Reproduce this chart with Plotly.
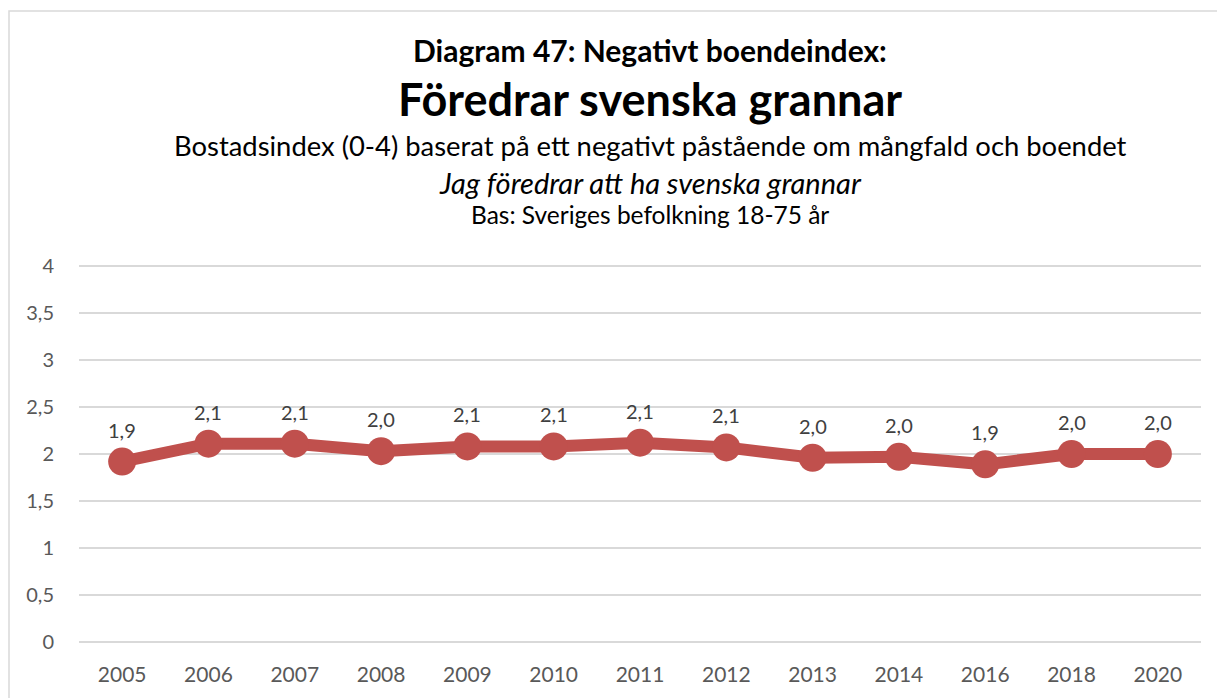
import plotly.graph_objects as go

# Survey years and index values (0-4 scale)
years = ["2005", "2006", "2007", "2008", "2009", "2010", "2011",
         "2012", "2013", "2014", "2016", "2018", "2020"]
index_values = [1.92, 2.11, 2.11, 2.03, 2.08, 2.08, 2.12,
                2.07, 1.96, 1.97, 1.89, 2.00, 2.00]
y_ticks = [0, 0.5, 1, 1.5, 2, 2.5, 3, 3.5, 4]
y_tick_labels = ["0", "0,5", "1", "1,5", "2", "2,5", "3", "3,5", "4"]

title_lines = [
    "Diagram 47: Negativt boendeindex:",
    "Föredrar svenska grannar",
    "Bostadsindex (0-4) baserat på ett negativt påstående om mångfald och boendet",
    "Jag föredrar att ha svenska grannar",
    "Bas: Sveriges befolkning 18-75 år",
]

FONT = "Lato"
RED = "#C0504D"

W, H = 1217, 698
Y_MIN, Y_MAX = -0.03, 4.03
L, R, T, B = 79, 16, 263.2, 52.5
plot_h = H - T - B
plot_w = W - L - R


def py(pix):
    """Pixel row -> paper y."""
    return (H - B - pix) / plot_h


def px(pix):
    """Pixel column -> paper x."""
    return (pix - L) / plot_w


fig = go.Figure()
fig.add_trace(go.Scatter(
    x=years, y=index_values, mode="lines+markers",
    line=dict(color=RED, width=12),
    marker=dict(color=RED, size=28),
    hoverinfo="skip", showlegend=False,
))

annotations = []
# value labels above each point (category index positions)
for i, v in enumerate(index_values):
    annotations.append(dict(
        x=i, y=v, xref="x", yref="y", yshift=32,
        text=f"{v:.1f}".replace(".", ","), showarrow=False,
        font=dict(family=FONT, size=20, color="#404040"),
    ))

title_specs = [
    (50, 30, True, False),
    (99, 45, True, False),
    (146, 27.4, False, False),
    (183, 29, False, True),
    (215, 24.5, False, False),
]
for text, (ypix, size, bold, italic) in zip(title_lines, title_specs):
    t = text
    if bold:
        t = f"<b>{t}</b>"
    if italic:
        t = f"<i>{t}</i>"
    annotations.append(dict(
        x=px(650), y=py(ypix), xref="paper", yref="paper",
        text=t, showarrow=False, xanchor="center", yanchor="middle",
        font=dict(family=FONT, size=size, color="#000000"),
    ))

fig.update_layout(
    width=W, height=H,
    margin=dict(l=L, r=R, t=T, b=B, pad=0),
    paper_bgcolor="white", plot_bgcolor="white",
    separators=", ",
    annotations=annotations,
    shapes=[dict(
        type="rect", xref="paper", yref="paper",
        x0=px(9), x1=px(W + 20), y0=py(H + 20), y1=py(11),
        line=dict(color="#D9D9D9", width=1.5), fillcolor="rgba(0,0,0,0)",
        layer="below",
    )],
    xaxis=dict(
        type="category", range=[-0.5, len(years) - 0.5], automargin=False,
        showgrid=False, zeroline=False, showline=False,
        ticks="", tickfont=dict(family=FONT, size=21, color="#595959"),
        ticklabelstandoff=15,
    ),
    yaxis=dict(
        range=[Y_MIN, Y_MAX], tickvals=y_ticks, ticktext=y_tick_labels,
        automargin=False,
        showgrid=True, gridcolor="#D9D9D9", gridwidth=1.5,
        zeroline=False, showline=False, ticks="",
        tickfont=dict(family=FONT, size=20, color="#595959"),
        ticklabelstandoff=24,
    ),
)

fig.write_html("out.html")
